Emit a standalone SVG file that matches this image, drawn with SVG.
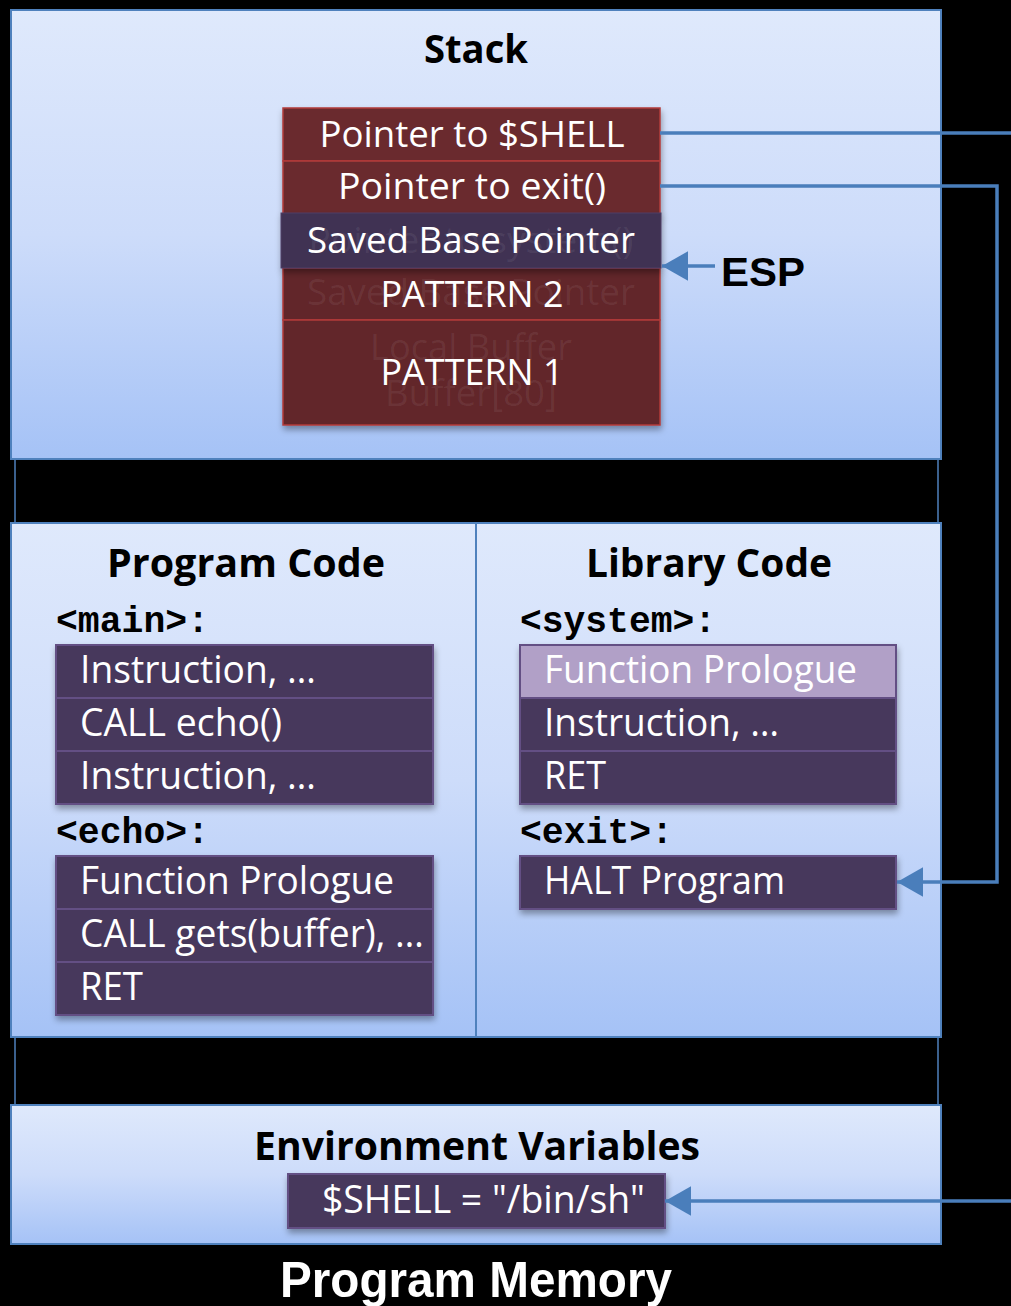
<svg xmlns="http://www.w3.org/2000/svg" width="1011" height="1306" viewBox="0 0 1011 1306">
<defs>
<linearGradient id="pg" x1="0" y1="0" x2="0" y2="1">
<stop offset="0" stop-color="#dfe9fc"/>
<stop offset="0.5" stop-color="#cddcfa"/>
<stop offset="1" stop-color="#a5c2f6"/>
</linearGradient>
<filter id="sh" x="-10%" y="-10%" width="120%" height="130%">
<feDropShadow dx="1" dy="4" stdDeviation="3" flood-color="#000" flood-opacity="0.35"/>
</filter>
<marker id="ah" viewBox="0 0 10 10" refX="10" refY="5" markerWidth="7.5" markerHeight="8.5" orient="auto" preserveAspectRatio="none">
<path d="M0,0 L10,5 L0,10 z" fill="#4a7ebb"/>
</marker>
<style>
.panel{fill:url(#pg);stroke:#4f81bd;stroke-width:2}
.title{font-family:"Open Sans","Liberation Sans",sans-serif;font-weight:bold;fill:#000;text-anchor:middle}
.st{font-family:"Open Sans","Liberation Sans",sans-serif;fill:#fff;font-size:36px;text-anchor:middle}
.ghost{font-family:"Open Sans","Liberation Sans",sans-serif;fill:#fff;fill-opacity:0.07;font-size:36px;text-anchor:middle}
.row{font-family:"Open Sans","Liberation Sans",sans-serif;fill:#fff;font-size:38px}
.mono{font-family:"Liberation Mono","Courier New",monospace;font-weight:bold;font-size:36px;fill:#000}
.red{fill:#62262a;stroke:#b33b3b;stroke-width:1.5}
.red2{fill:#6a2c2e;stroke:#b33b3b;stroke-width:1.5}
.pur{fill:#46395b;stroke:#644f84;stroke-width:2}
.pl{fill:#b1a0c7;stroke:#644f84;stroke-width:2}
.frame{stroke:#4f81bd;stroke-width:1.5;fill:none}
.conn{stroke:#4a7ebb;stroke-width:3.5;fill:none}
</style>
</defs>
<rect width="1011" height="1306" fill="#000"/>

<g id="frame">
<line class="frame" x1="15" y1="459" x2="15" y2="523"/>
<line class="frame" x1="938" y1="459" x2="938" y2="523"/>
<line class="frame" x1="15" y1="1037" x2="15" y2="1105"/>
<line class="frame" x1="938" y1="1037" x2="938" y2="1105"/>
</g>

<g id="stack-panel">
<rect class="panel" x="11" y="10" width="930" height="449"/>
<text class="title" x="476" y="63" font-size="40" textLength="104" lengthAdjust="spacingAndGlyphs">Stack</text>
</g>

<g id="stack-blocks">
<g filter="url(#sh)">
<rect class="red2" x="283" y="108" width="377" height="53"/>
<rect class="red2" x="283" y="161" width="377" height="53"/>
<rect class="red" x="283" y="268" width="377" height="52"/>
<rect class="red" x="283" y="320" width="377" height="105"/>
</g>
<text class="st" x="472" y="147" textLength="305" lengthAdjust="spacingAndGlyphs">Pointer to $SHELL</text>
<text class="st" x="472" y="199" textLength="268" lengthAdjust="spacingAndGlyphs">Pointer to exit()</text>
<text class="ghost" x="471" y="305" textLength="328" lengthAdjust="spacingAndGlyphs">Saved Base Pointer</text>
<text class="ghost" x="471" y="360" textLength="202" lengthAdjust="spacingAndGlyphs">Local Buffer</text>
<text class="ghost" x="471" y="406" textLength="172" lengthAdjust="spacingAndGlyphs">Buffer[80]</text>
<text class="st" x="472" y="307" textLength="183" lengthAdjust="spacingAndGlyphs">PATTERN 2</text>
<text class="st" x="472" y="385" textLength="183" lengthAdjust="spacingAndGlyphs">PATTERN 1</text>
<rect x="281" y="213" width="380" height="55" fill="#3f3152" stroke="#4f3f66" stroke-width="1" filter="url(#sh)"/>
<text class="ghost" x="471" y="253" textLength="325" lengthAdjust="spacingAndGlyphs">Pointer to system()</text>
<text class="st" x="471" y="253" textLength="328" lengthAdjust="spacingAndGlyphs">Saved Base Pointer</text>
</g>

<g id="esp">
<text x="721" y="286" font-family="Liberation Sans, Arial, sans-serif" font-weight="bold" font-size="41" fill="#000" textLength="84" lengthAdjust="spacingAndGlyphs">ESP</text>
</g>

<g id="code-panel">
<rect class="panel" x="11" y="523" width="930" height="514"/>
<line x1="476" y1="523" x2="476" y2="1037" stroke="#4f81bd" stroke-width="2"/>
<text class="title" x="246" y="577" font-size="40" textLength="278" lengthAdjust="spacingAndGlyphs">Program Code</text>
<text class="title" x="709" y="577" font-size="40" textLength="246" lengthAdjust="spacingAndGlyphs">Library Code</text>
</g>

<g id="main">
<text class="mono" x="56" y="632" textLength="153" lengthAdjust="spacingAndGlyphs">&lt;main&gt;:</text>
<g filter="url(#sh)">
<rect class="pur" x="56" y="645" width="377" height="53"/>
<rect class="pur" x="56" y="698" width="377" height="53"/>
<rect class="pur" x="56" y="751" width="377" height="53"/>
</g>
<text class="row" x="80" y="683" textLength="236" lengthAdjust="spacingAndGlyphs">Instruction, …</text>
<text class="row" x="80" y="736" textLength="202" lengthAdjust="spacingAndGlyphs">CALL echo()</text>
<text class="row" x="80" y="789" textLength="236" lengthAdjust="spacingAndGlyphs">Instruction, …</text>
</g>

<g id="echo">
<text class="mono" x="56" y="843" textLength="153" lengthAdjust="spacingAndGlyphs">&lt;echo&gt;:</text>
<g filter="url(#sh)">
<rect class="pur" x="56" y="856" width="377" height="53"/>
<rect class="pur" x="56" y="909" width="377" height="53"/>
<rect class="pur" x="56" y="962" width="377" height="53"/>
</g>
<text class="row" x="80" y="894" textLength="314" lengthAdjust="spacingAndGlyphs">Function Prologue</text>
<text class="row" x="80" y="947" textLength="344" lengthAdjust="spacingAndGlyphs">CALL gets(buffer), …</text>
<text class="row" x="80" y="1000" textLength="63" lengthAdjust="spacingAndGlyphs">RET</text>
</g>

<g id="system">
<text class="mono" x="520" y="632" textLength="196" lengthAdjust="spacingAndGlyphs">&lt;system&gt;:</text>
<g filter="url(#sh)">
<rect class="pl" x="520" y="645" width="376" height="53"/>
<rect class="pur" x="520" y="698" width="376" height="53"/>
<rect class="pur" x="520" y="751" width="376" height="53"/>
</g>
<text class="row" x="544" y="683" textLength="313" lengthAdjust="spacingAndGlyphs">Function Prologue</text>
<text class="row" x="544" y="736" textLength="235" lengthAdjust="spacingAndGlyphs">Instruction, …</text>
<text class="row" x="544" y="789" textLength="62" lengthAdjust="spacingAndGlyphs">RET</text>
</g>

<g id="exit">
<text class="mono" x="520" y="843" textLength="153" lengthAdjust="spacingAndGlyphs">&lt;exit&gt;:</text>
<rect class="pur" x="520" y="856" width="376" height="53" filter="url(#sh)"/>
<text class="row" x="544" y="894" textLength="241" lengthAdjust="spacingAndGlyphs">HALT Program</text>
</g>

<g id="env-panel">
<rect class="panel" x="11" y="1105" width="930" height="139"/>
<text class="title" x="477" y="1160" font-size="40" textLength="446" lengthAdjust="spacingAndGlyphs">Environment Variables</text>
</g>

<g id="env-shell">
<rect class="pur" x="288" y="1174" width="377" height="54" filter="url(#sh)"/>
<text class="row" x="322" y="1213" font-size="36" textLength="323" lengthAdjust="spacingAndGlyphs">$SHELL = "/bin/sh"</text>
</g>

<g id="label">
<text x="476" y="1297" font-family="Liberation Sans, Arial, sans-serif" font-weight="bold" font-size="50" fill="#fff" text-anchor="middle" textLength="392" lengthAdjust="spacingAndGlyphs">Program Memory</text>
</g>

<g id="connectors">
<path class="conn" d="M660,133 H1011"/>
<path class="conn" d="M1011,1201 H665" marker-end="url(#ah)"/>
<path class="conn" d="M660,186 H997 V882 H897" marker-end="url(#ah)"/>
<path class="conn" d="M715,266 H662" marker-end="url(#ah)"/>
</g>
</svg>
